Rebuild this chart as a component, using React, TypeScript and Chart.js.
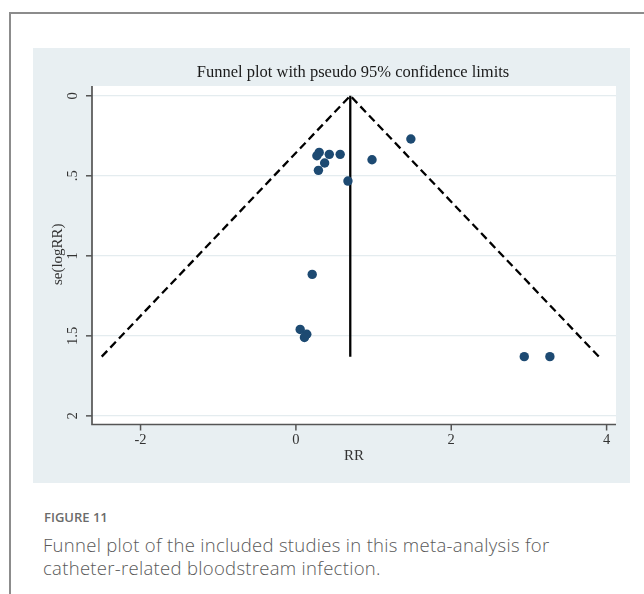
import React, { useEffect, useRef } from "react";
import { Chart, registerables } from "chart.js";

Chart.register(...registerables);

// Study estimates: risk ratio and its standard error (log scale)
const rrValues = [1.48, 0.3, 0.27, 0.43, 0.57, 0.37, 0.29, 0.98, 0.67, 0.21, 0.055, 0.14, 0.11, 2.94, 3.27];
const seValues = [0.27, 0.354, 0.375, 0.366, 0.366, 0.42, 0.466, 0.4, 0.533, 1.116, 1.46, 1.49, 1.51, 1.63, 1.63];

// Pseudo 95% confidence limits and pooled estimate
const funnelX = [-2.5, 0.7, 3.9];
const funnelY = [1.63, 0, 1.63];
const pooledX = [0.7, 0.7];
const pooledY = [0, 1.63];

// Axis ticks
const xTickValues = [-2, 0, 2, 4];
const xTickLabels = ["-2", "0", "2", "4"];
const yTickValues = [0, 0.5, 1, 1.5, 2];
const yTickLabels = ["0", ".5", "1", "1.5", "2"];

const chartTitle = "Funnel plot with pseudo 95% confidence limits";
const xAxisTitle = "RR";
const yAxisTitle = "se(logRR)";

const SERIF = '"Liberation Serif", "Times New Roman", serif';
const SANS = '"Open Sans", "Noto Sans", sans-serif';

const stataFrame = {
  id: "stataFrame",
  beforeDraw(chart: any) {
    const { ctx, chartArea } = chart;
    ctx.save();
    ctx.fillStyle = "#ffffff";
    ctx.fillRect(chartArea.left, chartArea.top, chartArea.right - chartArea.left, chartArea.bottom - chartArea.top);
    ctx.restore();
  },
  afterDraw(chart: any) {
    const { ctx, chartArea, scales } = chart;
    const xs = scales.x;
    const ys = scales.y;
    const { left, right, top, bottom } = chartArea;
    ctx.save();
    ctx.strokeStyle = "#555555";
    ctx.lineWidth = 1.7;
    ctx.beginPath();
    ctx.moveTo(left, top);
    ctx.lineTo(left, bottom);
    ctx.lineTo(right, bottom);
    ctx.stroke();

    ctx.lineWidth = 1.5;
    yTickValues.forEach((v) => {
      const py = ys.getPixelForValue(v);
      ctx.beginPath();
      ctx.moveTo(left - 6, py);
      ctx.lineTo(left, py);
      ctx.stroke();
    });
    xTickValues.forEach((v) => {
      const px = xs.getPixelForValue(v);
      ctx.beginPath();
      ctx.moveTo(px, bottom);
      ctx.lineTo(px, bottom + 6);
      ctx.stroke();
    });

    ctx.fillStyle = "#333333";
    ctx.textAlign = "center";
    ctx.textBaseline = "middle";
    ctx.font = `14.5px ${SERIF}`;
    xTickValues.forEach((v, i) => {
      ctx.fillText(xTickLabels[i], xs.getPixelForValue(v), bottom + 16);
    });
    yTickValues.forEach((v, i) => {
      const py = ys.getPixelForValue(v);
      ctx.save();
      ctx.translate(left - 19, py);
      ctx.rotate(-Math.PI / 2);
      ctx.fillText(yTickLabels[i], 0, 0);
      ctx.restore();
    });

    ctx.font = `15px ${SERIF}`;
    ctx.fillText(xAxisTitle, (left + right) / 2, bottom + 32);
    ctx.save();
    ctx.translate(left - 34, (top + bottom) / 2 - 1);
    ctx.rotate(-Math.PI / 2);
    ctx.fillText(yAxisTitle, 0, 0);
    ctx.restore();

    ctx.fillStyle = "#1a1a1a";
    ctx.font = `16.5px ${SERIF}`;
    ctx.fillText(chartTitle, (left + right) / 2 - 1, 25);
    ctx.restore();
  },
};

export default function App() {
  const canvasRef = useRef<HTMLCanvasElement | null>(null);

  useEffect(() => {
    if (!canvasRef.current) return;
    const chart = new Chart(canvasRef.current, {
      type: "scatter",
      data: {
        datasets: [
          {
            label: "Studies",
            data: rrValues.map((x, i) => ({ x, y: seValues[i] })),
            pointRadius: 4.7,
            pointHoverRadius: 4.7,
            backgroundColor: "#1d4a72",
            borderWidth: 0,
            order: 0,
          },
          {
            label: "Pseudo 95% CI",
            data: funnelX.map((x, i) => ({ x, y: funnelY[i] })),
            showLine: true,
            borderColor: "#000000",
            borderWidth: 2.3,
            borderDash: [8, 4.5],
            pointRadius: 0,
            fill: false,
            order: 1,
          },
          {
            label: "Pooled estimate",
            data: pooledX.map((x, i) => ({ x, y: pooledY[i] })),
            showLine: true,
            borderColor: "#000000",
            borderWidth: 2.3,
            pointRadius: 0,
            fill: false,
            order: 1,
          },
        ],
      } as any,
      options: {
        responsive: false,
        animation: false,
        events: [],
        layout: { padding: { top: 38, right: 14, left: 0, bottom: 0 } },
        plugins: { legend: { display: false }, tooltip: { enabled: false }, title: { display: false } },
        scales: {
          x: {
            type: "linear",
            min: -2.625,
            max: 4.121,
            grid: { display: false },
            border: { display: false },
            ticks: { display: false },
            afterFit: (s: any) => {
              s.height = 58.5;
            },
          },
          y: {
            type: "linear",
            reverse: true,
            min: -0.061,
            max: 2.054,
            ticks: { display: false },
            afterBuildTicks: (s: any) => {
              s.ticks = yTickValues.map((v) => ({ value: v }));
            },
            grid: { color: "#e4ecef", lineWidth: 1.3, drawTicks: false },
            border: { display: false },
            afterFit: (s: any) => {
              s.width = 59;
            },
          },
        },
      } as any,
      plugins: [stataFrame],
    });
    return () => chart.destroy();
  }, []);

  return (
    <div style={{ position: "absolute", left: 0, top: 0, width: 644, height: 594, background: "#ffffff", overflow: "hidden" }}>
      <div style={{ position: "absolute", left: 9, top: 12, width: 640, height: 1.5, background: "#8c8c8c" }} />
      <div style={{ position: "absolute", left: 9, top: 12, width: 1.5, height: 590, background: "#8c8c8c" }} />
      <canvas
        ref={canvasRef}
        width={597}
        height={435}
        style={{ position: "absolute", left: 33, top: 48, width: 597, height: 435, background: "#e8eff2" }}
      />
      <div
        style={{
          position: "absolute",
          left: 44,
          top: 511,
          fontFamily: SANS,
          fontSize: 13,
          lineHeight: "13px",
          fontWeight: 600,
          color: "#6b6b6b",
          whiteSpace: "nowrap",
        }}
      >
        FIGURE 11
      </div>
      <div
        style={{
          position: "absolute",
          left: 43,
          top: 534,
          fontFamily: SANS,
          fontSize: 18.5,
          letterSpacing: "0.3px",
          lineHeight: "22.5px",
          fontWeight: 300,
          color: "#595959",
          whiteSpace: "nowrap",
        }}
      >
        <div>Funnel plot of the included studies in this meta-analysis for</div>
        <div>catheter-related bloodstream infection.</div>
      </div>
    </div>
  );
}
